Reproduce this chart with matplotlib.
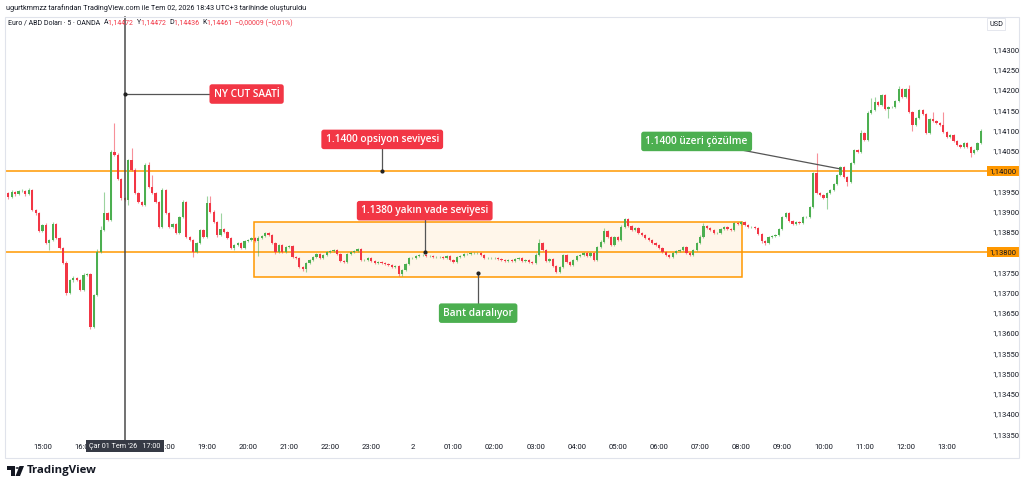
import matplotlib
matplotlib.use("Agg")
import matplotlib.pyplot as plt
import matplotlib.dates as mdates
import matplotlib.transforms as mtransforms
from matplotlib.patches import Rectangle, Polygon, Circle
import numpy as np
import pandas as pd

plt.rcParams['font.family'] = ['Open Sans', 'DejaVu Sans']
UI_FONT = ['Roboto', 'DejaVu Sans']

# ---------------- data ----------------
start_time = "2026-07-01 14:10"
first_open = 1.13946
closes = [
    1.13936, 1.13948, 1.13943, 1.13951, 1.13951, 1.13943, 1.13953, 1.13904, 1.13896, 1.13852,
    1.13867, 1.13822, 1.13830, 1.13869, 1.13835, 1.13810, 1.13773, 1.13699, 1.13731, 1.13736, 1.13731, 1.13706,
    1.13743, 1.13746, 1.13615, 1.13694, 1.13800, 1.13854, 1.13896, 1.13879, 1.14047, 1.14040, 1.13980, 1.13933,
    1.13928, 1.14027, 1.14002, 1.13946, 1.13923, 1.13916, 1.14015, 1.13960, 1.13946, 1.13923, 1.13862, 1.13953,
    1.13896, 1.13862, 1.13869, 1.13847, 1.13886, 1.13923, 1.13837, 1.13830, 1.13800, 1.13822, 1.13854, 1.13837,
    1.13921, 1.13899, 1.13874, 1.13842, 1.13857, 1.13849, 1.13835, 1.13810, 1.13817, 1.13822, 1.13810, 1.13827,
    1.13830, 1.13835, 1.13827, 1.13835, 1.13840, 1.13847, 1.13842, 1.13822, 1.13800, 1.13817, 1.13800, 1.13812,
    1.13815, 1.13788, 1.13785, 1.13763, 1.13758, 1.13773, 1.13780, 1.13788, 1.13795, 1.13785, 1.13793, 1.13800,
    1.13802, 1.13805, 1.13795, 1.13778, 1.13775, 1.13795, 1.13800, 1.13802, 1.13807, 1.13780, 1.13780, 1.13785,
    1.13778, 1.13773, 1.13775, 1.13773, 1.13770, 1.13768, 1.13763, 1.13765, 1.13746, 1.13756, 1.13770, 1.13785,
    1.13785, 1.13790, 1.13793, 1.13793, 1.13790, 1.13790, 1.13788, 1.13788, 1.13788, 1.13785, 1.13790, 1.13780,
    1.13775, 1.13788, 1.13790, 1.13795, 1.13795, 1.13798, 1.13798, 1.13798, 1.13793, 1.13785, 1.13785, 1.13785,
    1.13785, 1.13783, 1.13780, 1.13778, 1.13780, 1.13778, 1.13783, 1.13785, 1.13778, 1.13780, 1.13775, 1.13773,
    1.13793, 1.13822, 1.13805, 1.13778, 1.13783, 1.13765, 1.13751, 1.13763, 1.13793, 1.13775, 1.13768, 1.13780,
    1.13790, 1.13793, 1.13798, 1.13790, 1.13798, 1.13780, 1.13812, 1.13825, 1.13852, 1.13837, 1.13817, 1.13837,
    1.13830, 1.13862, 1.13881, 1.13864, 1.13854, 1.13859, 1.13847, 1.13842, 1.13835, 1.13830, 1.13822, 1.13817,
    1.13810, 1.13800, 1.13793, 1.13788, 1.13798, 1.13802, 1.13805, 1.13812, 1.13798, 1.13793, 1.13805, 1.13822,
    1.13837, 1.13864, 1.13859, 1.13854, 1.13847, 1.13847, 1.13857, 1.13862, 1.13857, 1.13854, 1.13872, 1.13869,
    1.13874, 1.13867, 1.13862, 1.13862, 1.13859, 1.13844, 1.13827, 1.13822, 1.13837, 1.13840, 1.13842, 1.13857,
    1.13886, 1.13896, 1.13877, 1.13869, 1.13874, 1.13872, 1.13886, 1.13886, 1.13911, 1.13995, 1.13946, 1.13941,
    1.13933, 1.13946, 1.13953, 1.13968, 1.13990, 1.14010, 1.13985, 1.13973, 1.14020, 1.14052, 1.14047, 1.14094,
    1.14077, 1.14143, 1.14151, 1.14170, 1.14163, 1.14188, 1.14153, 1.14158, 1.14158, 1.14173, 1.14202, 1.14183,
    1.14202, 1.14146, 1.14114, 1.14131, 1.14151, 1.14141, 1.14094, 1.14128, 1.14123, 1.14119, 1.14114, 1.14096,
    1.14084, 1.14089, 1.14074, 1.14064, 1.14059, 1.14069, 1.14059, 1.14044, 1.14052, 1.14069, 1.14099,
]
# wick lengths beyond the candle body, in points (0.00001)
upper_wick_pts = [
    3, 4, 3, 3, 4, 3, 5, 3, 3, 3,
    3, 4, 3, 5, 3, 3, 3, 4, 3, 5, 3, 3,
    4, 3, 3, 3, 8, 10, 52, 3, 6, 72, 4, 3,
    3, 3, 30, 5, 3, 3, 5, 6, 30, 3, 3, 5,
    3, 3, 3, 3, 3, 5, 3, 3, 3, 3, 3, 3,
    17, 17, 4, 3, 40, 3, 3, 3, 3, 3, 3, 3,
    3, 3, 3, 4, 3, 3, 3, 3, 3, 3, 3, 3,
    3, 3, 3, 3, 3, 3, 3, 3, 3, 3, 3, 3,
    3, 3, 3, 3, 3, 3, 3, 3, 3, 3, 3, 3,
    3, 3, 3, 3, 3, 3, 3, 3, 3, 3, 3, 3,
    2, 2, 2, 3, 2, 2, 3, 2, 2, 2, 3, 2,
    2, 3, 2, 2, 2, 2, 2, 2, 2, 2, 2, 2,
    2, 2, 2, 2, 2, 2, 2, 2, 2, 2, 2, 3,
    4, 10, 3, 3, 3, 3, 3, 3, 3, 3, 3, 3,
    3, 3, 3, 3, 3, 3, 4, 5, 8, 3, 3, 3,
    3, 4, 4, 3, 3, 3, 3, 3, 3, 3, 3, 3,
    3, 3, 3, 3, 3, 3, 3, 3, 3, 3, 3, 3,
    4, 8, 3, 3, 3, 3, 3, 3, 3, 3, 3, 3,
    3, 3, 3, 3, 3, 3, 3, 3, 3, 3, 3, 3,
    3, 3, 3, 3, 3, 3, 3, 3, 3, 3, 49, 3,
    3, 3, 3, 3, 3, 3, 3, 3, 3, 3, 3, 7,
    3, 5, 30, 12, 3, 3, 3, 3, 3, 3, 7, 3,
    3, 10, 3, 3, 3, 3, 3, 3, 17, 3, 3, 32,
    3, 3, 3, 3, 3, 3, 3, 3, 3, 3, 4,
]
lower_wick_pts = [
    4, 3, 4, 3, 3, 5, 3, 3, 4, 3,
    3, 3, 17, 3, 4, 3, 3, 6, 3, 4, 3, 3,
    3, 3, 4, 3, 3, 3, 3, 3, 3, 3, 3, 5,
    3, 12, 3, 3, 3, 3, 3, 3, 3, 3, 3, 3,
    3, 3, 3, 3, 3, 3, 3, 3, 12, 3, 3, 3,
    3, 3, 3, 4, 3, 3, 3, 3, 4, 3, 3, 3,
    3, 3, 3, 37, 3, 3, 3, 3, 4, 3, 3, 3,
    3, 3, 3, 3, 4, 7, 3, 3, 3, 3, 3, 3,
    3, 3, 3, 3, 3, 3, 3, 3, 3, 3, 3, 3,
    3, 3, 3, 3, 3, 3, 3, 3, 5, 5, 3, 3,
    2, 2, 3, 2, 2, 3, 2, 2, 2, 3, 2, 2,
    3, 2, 2, 2, 2, 2, 2, 2, 2, 2, 2, 2,
    2, 2, 2, 2, 2, 2, 2, 2, 2, 2, 2, 2,
    2, 3, 3, 3, 3, 3, 3, 3, 3, 3, 3, 3,
    3, 3, 3, 3, 3, 3, 3, 3, 3, 3, 3, 3,
    3, 3, 3, 3, 3, 3, 3, 3, 3, 3, 3, 3,
    3, 3, 3, 3, 3, 3, 3, 3, 3, 3, 3, 3,
    3, 3, 3, 3, 3, 3, 3, 3, 3, 3, 3, 3,
    3, 3, 3, 3, 3, 3, 5, 5, 3, 3, 3, 3,
    3, 3, 3, 3, 3, 3, 3, 3, 3, 3, 3, 3,
    3, 27, 3, 3, 3, 3, 3, 10, 3, 3, 3, 3,
    3, 3, 3, 3, 3, 3, 3, 22, 3, 3, 3, 3,
    3, 3, 15, 3, 3, 3, 3, 3, 3, 3, 3, 3,
    3, 3, 3, 3, 3, 3, 3, 10, 3, 3, 3,
]
level_high = 1.14000
level_low = 1.13800
band_start, band_end = "2026-07-01 20:09", "2026-07-02 08:01"
band_top, band_bottom = 1.13873, 1.13738
ny_cut_time = "2026-07-01 17:00"
price_ticks = [1.13350, 1.13400, 1.13450, 1.13500, 1.13550, 1.13600, 1.13650, 1.13700,
               1.13750, 1.13800, 1.13850, 1.13900, 1.13950, 1.14000, 1.14050, 1.14100,
               1.14150, 1.14200, 1.14250, 1.14300]
hour_ticks = pd.date_range("2026-07-01 15:00", "2026-07-02 13:00", freq="h")

# ---------------- derived OHLC ----------------
pt = 1e-5
c = np.array(closes)
o = np.concatenate([[first_open], c[:-1]])
h = np.maximum(o, c) + np.array(upper_wick_pts) * pt
l = np.minimum(o, c) - np.array(lower_wick_pts) * pt
times = pd.date_range(start_time, periods=len(c), freq="5min")
tx = mdates.date2num(times)
step = 5 / (24 * 60)

W, H = 1024, 488
fig = plt.figure(figsize=(W / 100, H / 100), dpi=100)
fig.patch.set_facecolor("white")

def fx(px):
    return px / W

def fy(py):
    return 1 - py / H

ax = fig.add_axes([fx(5), fy(440), fx(988) - fx(5), fy(30) - fy(440)])
ax.set_facecolor("white")
for s in ax.spines.values():
    s.set_visible(False)

GREEN = "#4caf50"
RED = "#f23645"
ORANGE = "#ff9800"

up = c >= o
cols = np.where(up, GREEN, RED)
ax.vlines(tx, l, h, colors=cols, linewidth=0.8, alpha=0.55, zorder=3)
body_h = np.maximum(np.abs(c - o), 0.5 * pt)
ax.bar(tx, body_h, bottom=np.minimum(o, c), width=step * 0.66, color=cols,
       linewidth=0, zorder=4)

# levels
ax.axhline(level_high, color=ORANGE, lw=1.1, zorder=2)
ax.axhline(level_low, color=ORANGE, lw=1.1, zorder=2)

# band rectangle
bx0 = mdates.date2num(pd.Timestamp(band_start))
bx1 = mdates.date2num(pd.Timestamp(band_end))
ax.add_patch(Rectangle((bx0, band_bottom), bx1 - bx0, band_top - band_bottom,
                       facecolor="#fff6ea", edgecolor=ORANGE, lw=1.1, zorder=1))

# NY cut vertical line
nyx = mdates.date2num(pd.Timestamp(ny_cut_time))
ax.axvline(nyx, ymin=0, ymax=1.032, color="#4a4a4a", lw=1.1, zorder=6, clip_on=False)

x0 = mdates.date2num(pd.Timestamp("2026-07-01 14:05:17"))
x1 = mdates.date2num(pd.Timestamp("2026-07-02 14:00:20"))
ax.set_xlim(x0, x1)
ax.set_ylim(1.133358, 1.143481)

# axes ticks (the two level prices are shown by their own orange labels)
ax.yaxis.tick_right()
ax.set_yticks(price_ticks)
ax.set_yticklabels(["" if p in (level_high, level_low) else f"{p:.5f}".replace(".", ",")
                    for p in price_ticks], fontfamily=UI_FONT)
ax.tick_params(axis="y", length=0, pad=3, labelsize=5.5, labelcolor="#131722")
ax.set_xticks(mdates.date2num(hour_ticks))
# 17:00 sits under the crosshair time label
ax.set_xticklabels(["" if t.hour == 17 else ("2" if t.hour == 0 else t.strftime("%H:00"))
                    for t in hour_ticks], fontfamily=UI_FONT)
ax.tick_params(axis="x", length=0, pad=3.2, labelsize=5.5, labelcolor="#131722")

# annotations
def tnum(s):
    return mdates.date2num(pd.Timestamp(s))

def label(x, y, text, fc, fs=7.3):
    ax.text(x, y, text, ha="center", va="center", color="white", fontsize=fs,
            fontweight="semibold", zorder=9,
            bbox=dict(boxstyle="round,pad=0.42,rounding_size=0.25", fc=fc, ec="none"))

def connector(xa, ya, xb, yb, dot=True):
    ax.plot([xa, xb], [ya, yb], color="#555555", lw=0.9, zorder=7, clip_on=False)
    if dot:
        ax.plot([xb], [yb], "o", color="#222222", ms=2.0, zorder=8)

# NY CUT
connector(tnum("2026-07-01 19:58"), 1.14190, nyx, 1.14190)
label(tnum("2026-07-01 19:58"), 1.14190, "NY CUT SAATİ", RED)
# 1.1400 opsiyon
connector(tnum("2026-07-01 23:16"), 1.14078, tnum("2026-07-01 23:16"), level_high)
label(tnum("2026-07-01 23:16"), 1.14078, "1.1400 opsiyon seviyesi", RED)
# 1.1380 yakin vade
connector(tnum("2026-07-02 00:18"), 1.13902, tnum("2026-07-02 00:18"), level_low)
label(tnum("2026-07-02 00:18"), 1.13902, "1.1380 yakın vade seviyesi", RED)
# Bant daraliyor
connector(tnum("2026-07-02 01:36"), 1.13649, tnum("2026-07-02 01:36"), 1.13748)
label(tnum("2026-07-02 01:36"), 1.13649, "Bant daralıyor", GREEN)
# 1.1400 uzeri cozulme
connector(tnum("2026-07-02 06:55"), 1.14073, tnum("2026-07-02 10:25"), 1.14005, dot=False)
label(tnum("2026-07-02 06:55"), 1.14073, "1.1400 üzeri çözülme", GREEN)

# orange price labels on scale
bt = mtransforms.blended_transform_factory(fig.transFigure, ax.transData)
for lv in (level_high, level_low):
    ax.text(fx(1003), lv, f"{lv:.5f}".replace(".", ","), transform=bt, ha="center",
            va="center", fontsize=5.5, color="#131722", zorder=10, family=UI_FONT,
            bbox=dict(boxstyle="square,pad=0.3", fc=ORANGE, ec="none"))

# frame
fig.patches.append(Rectangle((fx(5), fy(458)), fx(1019) - fx(5), fy(17) - fy(458),
                             transform=fig.transFigure, fill=False, ec="#e0e3eb", lw=0.8))

# header texts
fig.text(fx(6), fy(8), "ugurtkmmzz tarafından TradingView.com ile Tem 02, 2026 18:43 UTC+3 tarihinde oluşturuldu",
         fontsize=5.2, color="#131722", va="center", ha="left", family=UI_FONT)

renderer = fig.canvas.get_renderer()
parts = [("Euro / ABD Doları · 5 · OANDA  ", "#131722"), ("A", "#131722"), ("1,14472  ", RED),
         ("Y", "#131722"), ("1,14472  ", RED), ("D", "#131722"), ("1,14436  ", RED),
         ("K", "#131722"), ("1,14461  ", RED), ("−0,00009 (−0,01%)", RED)]
cx = 8
for txt, col in parts:
    t = fig.text(fx(cx), fy(23), txt, fontsize=5.0, color=col, va="center", ha="left",
                 family=UI_FONT)
    bb = t.get_window_extent(renderer=renderer)
    cx += bb.width

# USD label
fig.text(fx(996), fy(24), "USD", fontsize=5.2, color="#131722", va="center", ha="center",
         family=UI_FONT,
         bbox=dict(boxstyle="square,pad=0.35", fc="white", ec="#e0e3eb", lw=0.6))

# crosshair time label
fig.text(fx(125), fy(446), "Çar 01 Tem '26   17:00", fontsize=5.2, color="white",
         va="center", ha="center", zorder=20, family=UI_FONT,
         bbox=dict(boxstyle="square,pad=0.4", fc="#363a45", ec="none"))

# TradingView logo
def P(x, y):
    return (fx(x), fy(y))
fig.patches.append(Polygon([P(7, 466), P(15, 466), P(15, 476), P(11, 476), P(11, 470), P(7, 470)],
                           closed=True, transform=fig.transFigure, fc="#131722", ec="none"))
fig.patches.append(Circle(P(17.3, 468), 1.7 / W, transform=fig.transFigure, fc="#131722", ec="none"))
fig.patches.append(Polygon([P(19.5, 466), P(24, 466), P(20, 476), P(15.5, 476)],
                           closed=True, transform=fig.transFigure, fc="#131722", ec="none"))
fig.text(fx(27), fy(471), "TradingView", fontsize=8.2, fontweight="bold", color="#131722",
         va="center", ha="left")

fig.savefig("out.png", dpi=100, facecolor="white")
